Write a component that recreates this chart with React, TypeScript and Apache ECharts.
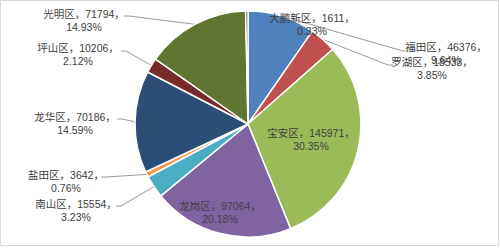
import React, { useEffect, useRef } from "react";
import * as echarts from "echarts";

const districts = ["福田区", "罗湖区", "宝安区", "龙岗区", "南山区", "盐田区", "龙华区", "坪山区", "光明区", "大鹏新区"];
const values = [46376, 18533, 145971, 97064, 15554, 3642, 70186, 10206, 71794, 1611];
const colors = ["#4F81BD", "#C0504D", "#9BBB59", "#8064A2", "#4BACC6", "#F79646", "#2C4D75", "#772C2A", "#5F7530", "#4D3B62"];

// label block centres [x, y] and the label-side end of the leader line [x, y] (null = no line)
const labelCentres: number[][] = [
  [446, 53], [432, 68], [311, 139], [220, 212], [76, 210],
  [66, 181.5], [75, 123], [78, 54], [84, 20.5], [312, 24],
];
const lineEnds: (number[] | null)[] = [
  [408, 51], [393, 65], null, null, [116, 206],
  [101, 177], [117, 119], [121, 51], [124, 16], null,
];

export default function App() {
  const ref = useRef<HTMLDivElement>(null);
  useEffect(() => {
    if (!ref.current) return;
    const chart = echarts.init(ref.current, undefined, { renderer: "svg" });
    const total = values.reduce((a, b) => a + b, 0);
    const data = districts.map((name, i) => ({
      name,
      value: values[i],
      itemStyle: { color: colors[i] },
      labelLine: { show: lineEnds[i] !== null },
    }));
    chart.setOption({
      animation: false,
      backgroundColor: "#ffffff",
      graphic: [
        {
          type: "rect",
          shape: { x: 0.5, y: 0.5, width: 498, height: 245 },
          style: { fill: "none", stroke: "#D9D9D9", lineWidth: 1 },
          silent: true,
        },
      ],
      series: [
        {
          type: "pie",
          center: [248, 124],
          radius: 113,
          startAngle: 90,
          clockwise: true,
          avoidLabelOverlap: false,
          itemStyle: { borderColor: "#ffffff", borderWidth: 1.5 },
          label: {
            show: true,
            position: "outside",
            color: "#404040",
            fontSize: 10.5,
            lineHeight: 13,
            fontFamily: "'Liberation Sans', 'Noto Sans CJK SC', sans-serif",
            align: "center",
            formatter: (p: any) =>
              `${p.name}，${p.value}，\n${((p.value / total) * 100).toFixed(2)}%`,
          },
          labelLine: {
            lineStyle: { color: "#7F7F7F", width: 0.8 },
            length: 10,
            length2: 5,
          },
          labelLayout: (params: any) => {
            const i = params.dataIndex;
            const c = labelCentres[i];
            const end = lineEnds[i];
            const res: any = {
              x: c[0],
              y: c[1],
              align: "center",
              verticalAlign: "middle",
              hideOverlap: false,
              moveOverlap: null,
            };
            if (end && params.labelLinePoints) {
              const p0 = params.labelLinePoints[0];
              const dir = end[0] < p0[0] ? 1 : -1;
              res.labelLinePoints = [p0, [end[0] + dir * 5, end[1]], [end[0], end[1]]];
            }
            return res;
          },
          data,
        },
      ],
    });
    return () => chart.dispose();
  }, []);
  return (
    <div
      ref={ref}
      style={{ position: "absolute", left: 0, top: 0, width: 500, height: 248 }}
    />
  );
}
